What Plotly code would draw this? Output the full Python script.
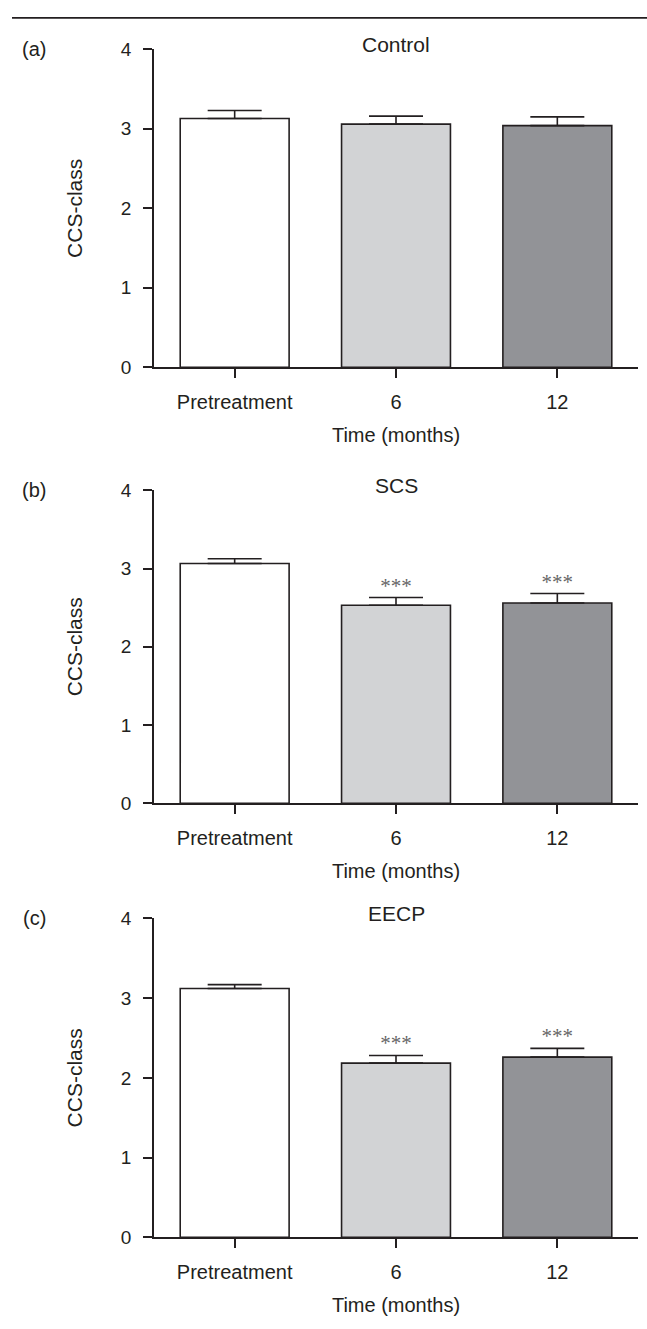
import plotly.graph_objects as go

W, H = 647, 1329

categories = ["Pretreatment", "6", "12"]
panel_titles = ["Control", "SCS", "EECP"]
panel_labels = ["(a)", "(b)", "(c)"]
y_title = "CCS-class"
x_title = "Time (months)"

control_mean = [3.13, 3.06, 3.04]
control_err = [0.10, 0.10, 0.11]
scs_mean = [3.065, 2.53, 2.56]
scs_err = [0.06, 0.10, 0.12]
eecp_mean = [3.12, 2.185, 2.26]
eecp_err = [0.05, 0.095, 0.11]

control_sig = ["", "", ""]
scs_sig = ["", "***", "***"]
eecp_sig = ["", "***", "***"]

y_ticks = [0, 1, 2, 3, 4]

bar_colors = ["#ffffff", "#d2d3d5", "#929397"]
ink = "#231f20"
FONT = "Liberation Sans, Arial, sans-serif"

means = [control_mean, scs_mean, eecp_mean]
errs = [control_err, scs_err, eecp_err]
sigs = [control_sig, scs_sig, eecp_sig]

# pixel positions (top of axis = value 4, bottom = value 0)
panel_px = [(40, 363), (488, 806), (923, 1247)]

fig = go.Figure()
layout = dict(
    width=W, height=H,
    margin=dict(l=0, r=0, t=0, b=0),
    paper_bgcolor="white", plot_bgcolor="white",
    showlegend=False,
    bargap=0.325,
    font=dict(family=FONT, color=ink, size=20),
)

annotations = []
for i in range(3):
    xa = "x" if i == 0 else f"x{i+1}"
    ya = "y" if i == 0 else f"y{i+1}"
    top_px, bot_px = panel_px[i]
    dom = [1 - bot_px / H, 1 - top_px / H]
    fig.add_trace(go.Bar(
        x=categories, y=means[i], xaxis=xa, yaxis=ya,
        marker=dict(color=bar_colors, line=dict(color=ink, width=1.6)),
        error_y=dict(type="data", symmetric=False, array=errs[i],
                     arrayminus=[0] * len(errs[i]),
                     color=ink, thickness=1.6, width=27),
        hoverinfo="skip",
    ))
    star_y = [m + e + 0.13 for m, e in zip(means[i], errs[i])]
    fig.add_trace(go.Scatter(
        x=categories, y=star_y, xaxis=xa, yaxis=ya, mode="text",
        text=sigs[i], textposition="middle center",
        textfont=dict(family="Liberation Serif, Times New Roman, serif", size=21, color="#666666"),
        hoverinfo="skip",
    ))
    xkey = "xaxis" if i == 0 else f"xaxis{i+1}"
    ykey = "yaxis" if i == 0 else f"yaxis{i+1}"
    layout[xkey] = dict(
        domain=[154 / W, 638 / W], anchor=ya, range=[-0.5, 2.5],
        type="category", showline=True, linecolor=ink, linewidth=1.6,
        ticks="outside", ticklen=9, tickwidth=1.6, tickcolor=ink,
        tickfont=dict(size=20), ticklabelstandoff=7,
        showgrid=False, zeroline=False,
        title=dict(text=x_title, font=dict(size=20), standoff=16),
    )
    layout[ykey] = dict(
        domain=dom, anchor=xa, range=[0, 4], tickvals=y_ticks,
        showline=True, linecolor=ink, linewidth=1.6,
        ticks="outside", ticklen=9, tickwidth=1.6, tickcolor=ink,
        tickfont=dict(size=19), ticklabelstandoff=8,
        showgrid=False, zeroline=False,
        title=dict(text=y_title, font=dict(size=21), standoff=32),
    )
    annotations.append(dict(
        text=panel_titles[i], xref=xa, yref=ya, x=1, y=4,
        yshift=5, showarrow=False, font=dict(size=21),
        xanchor="center", yanchor="middle",
    ))
    annotations.append(dict(
        text=panel_labels[i], xref="paper", yref="paper",
        x=34 / W, y=1 - top_px / H, showarrow=False, font=dict(size=20),
        xanchor="center", yanchor="middle",
    ))

layout["annotations"] = annotations
layout["shapes"] = [dict(type="line", xref="paper", yref="paper",
                         x0=12 / W, x1=1, y0=1 - 8 / H, y1=1 - 8 / H,
                         line=dict(color=ink, width=1.8))]
fig.update_layout(**layout)
fig.write_html("out.html")
